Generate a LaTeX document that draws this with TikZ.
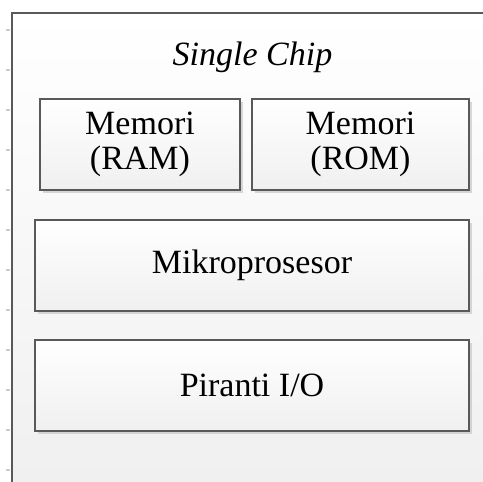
\documentclass[tikz,border=0pt]{standalone}
\usepackage{fontspec}
\setmainfont{Liberation Serif}
\usetikzlibrary{shadows}
\tikzset{
  px/.style={x=0.75pt,y=-0.75pt},
  outerframe/.style={draw=black!65,line width=1.6pt},
  tick/.style={draw=black!20,line width=0.8pt},
  blockbox/.style={draw=black!65,line width=1.6pt,top color=white,bottom color=black!6,
    minimum height=68.25pt,inner sep=0pt,align=center,
    font=\fontsize{25.5}{26.5}\selectfont,
    drop shadow={shadow xshift=2pt,shadow yshift=-2pt,fill=black!25,opacity=0.6}},
  titletext/.style={font=\fontsize{25.5}{26.5}\selectfont\itshape,inner sep=0pt}
}
\begin{document}
\begin{tikzpicture}[px]
\clip (0,0) rectangle (483,482);
\fill[white] (0,0) rectangle (483,482);
\shade[top color=white,bottom color=black!6] (12,13) rectangle (490,490);
\draw[outerframe] (12,495) -- (12,13) -- (495,13);
\foreach \yy in {30,70,...,470} \draw[tick] (6,\yy) -- (10,\yy);
\node[titletext,anchor=base] (title) at (252.5,65) {Single Chip};
\node[blockbox,minimum width=150pt] (ram) at (140,144.5) {Memori\\(RAM)};
\node[blockbox,minimum width=162.75pt] (rom) at (360.5,144.5) {Memori\\(ROM)};
\node[blockbox,minimum width=325.5pt] (cpu) at (252,265.5) {Mikroprosesor};
\node[blockbox,minimum width=325.5pt] (io) at (252,385.5) {Piranti I/O};
\end{tikzpicture}
\end{document}
